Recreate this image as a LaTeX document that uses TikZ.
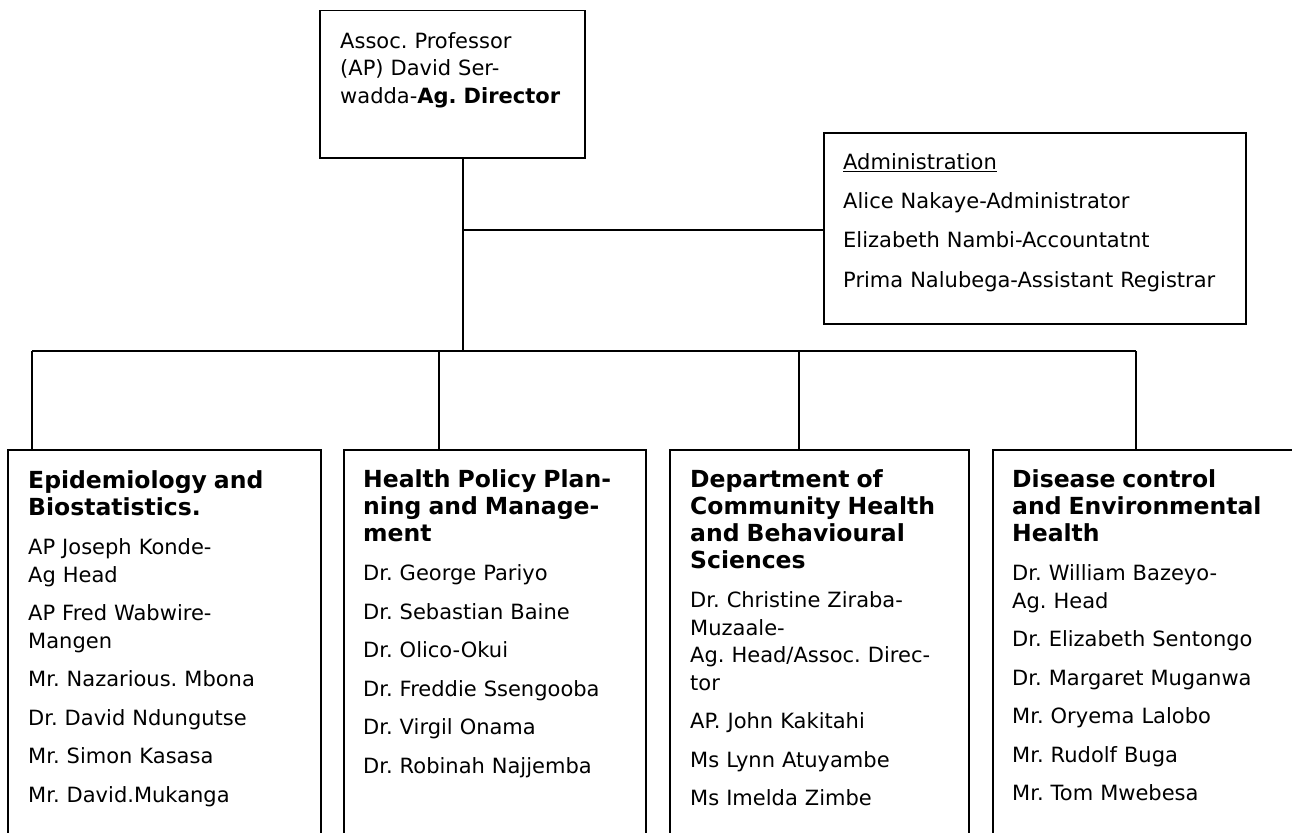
\documentclass[tikz,border=0pt]{standalone}
\usepackage{fontspec}
\setmainfont{DejaVu Sans}
\frenchspacing
\newcommand\depthead[1]{{\fontsize{23.5}{27}\bfseries\selectfont\rule{0pt}{20pt}#1\par}\vspace{1pt}}
\tikzset{
  orgbox/.style={draw, line width=1.5pt, inner sep=0pt, anchor=north west},
  link/.style={line width=1.5pt},
  boxtext/.style={anchor=north west, inner sep=0pt, align=left, text width=#1,
    font=\fontsize{21}{27.5}\selectfont\frenchspacing\setlength\parindent{0pt}\setlength\parskip{11pt}},
  boxtext/.default=290pt
}
\begin{document}
\begin{tikzpicture}[x=1pt, y=-1pt]
\useasboundingbox (0,0) rectangle (1292,832);
\clip (0,0) rectangle (1292,832);

% boxes
\node[orgbox, minimum width=265pt, minimum height=147pt] (dir) at (319,10) {};
\node[orgbox, minimum width=422pt, minimum height=191pt] (adm) at (823,132) {};
\node[orgbox, minimum width=313pt, minimum height=420pt] (epi) at (7,449) {};
\node[orgbox, minimum width=302pt, minimum height=420pt] (hpp) at (343,449) {};
\node[orgbox, minimum width=299pt, minimum height=420pt] (chb) at (669,449) {};
\node[orgbox, minimum width=330pt, minimum height=420pt] (dce) at (992,449) {};

% director
\node[boxtext=240pt] (dirtxt) at (340,30)
  {\rule{0pt}{18pt}Assoc. Professor\\(AP) David Ser-\\wadda-\textbf{Ag. Director}};

% administration
\node[boxtext=400pt, font=\fontsize{21}{39.3}\selectfont] (admtxt) at (843,151)
  {\rule{0pt}{18pt}\underline{Administration}\\Alice Nakaye-Administrator\\Elizabeth Nambi-Accountatnt\\Prima Nalubega-Assistant Registrar};

% departments
\node[boxtext] (epitxt) at (28,468) {\depthead{Epidemiology and\\Biostatistics.}
AP Joseph Konde-\\Ag Head\par
AP Fred Wabwire-\\Mangen\par
Mr. Nazarious. Mbona\par
Dr. David Ndungutse\par
Mr. Simon Kasasa\par
Mr. David.Mukanga};

\node[boxtext] (hpptxt) at (363,467) {\depthead{Health Policy Plan-\\ning and Manage-\\ment}
Dr. George Pariyo\par
Dr. Sebastian Baine\par
Dr. Olico-Okui\par
Dr. Freddie Ssengooba\par
Dr. Virgil Onama\par
Dr. Robinah Najjemba};

\node[boxtext] (chbtxt) at (690,467) {\depthead{Department of\\Community Health\\and Behavioural\\Sciences}
Dr. Christine Ziraba-\\Muzaale-\\Ag. Head/Assoc. Direc-\\tor\par
AP. John Kakitahi\par
Ms Lynn Atuyambe\par
Ms Imelda Zimbe};

\node[boxtext] (dcetxt) at (1012,467) {\depthead{Disease control\\and Environmental\\Health}
Dr. William Bazeyo-\\Ag. Head\par
Dr. Elizabeth Sentongo\par
Dr. Margaret Muganwa\par
Mr. Oryema Lalobo\par
Mr. Rudolf Buga\par
Mr. Tom Mwebesa};

% connectors
\coordinate (hub) at (463,351);
\coordinate (admj) at (463,230);
\coordinate (d1) at (32,351);
\coordinate (d2) at (439,351);
\coordinate (d3) at (799,351);
\coordinate (d4) at (1136,351);
\draw[link] (dir.south -| hub) -- (hub);
\draw[link] (admj) -- (admj -| adm.west);
\draw[link] (d1) -- (d4);
\draw[link] (d1) -- (d1 |- epi.north);
\draw[link] (d2) -- (d2 |- hpp.north);
\draw[link] (d3) -- (d3 |- chb.north);
\draw[link] (d4) -- (d4 |- dce.north);
\end{tikzpicture}
\end{document}
